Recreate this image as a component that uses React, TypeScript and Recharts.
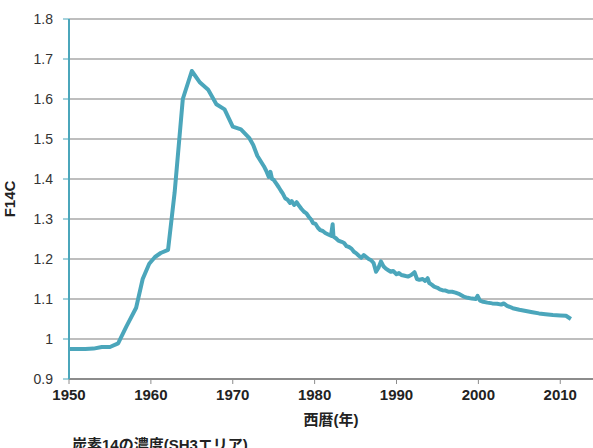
import React from 'react';
import { LineChart, Line, XAxis, YAxis, CartesianGrid, Label } from 'recharts';

const years: number[] = [
  1950, 1951, 1952, 1953, 1954, 1955, 1956, 1957, 1958.2, 1959, 1959.8, 1960.5, 1961.2, 1962.1, 1962.9, 1963.9,
  1965.0, 1966.0, 1967.0, 1968.0, 1969.0, 1970.0, 1971.0, 1972.0, 1972.5, 1973.0, 1973.4, 1973.8, 1974.1, 1974.4,
  1974.6, 1974.8, 1975.0, 1975.3, 1975.6, 1975.9, 1976.1, 1976.4, 1976.7, 1977.0, 1977.2, 1977.5, 1977.8, 1978.1,
  1978.4, 1978.7, 1979.0, 1979.3, 1979.6, 1979.8, 1980.1, 1980.4, 1980.7, 1981.0, 1981.3, 1981.6, 1982.0, 1982.2,
  1982.3, 1982.6, 1982.9, 1983.3, 1983.6, 1983.9, 1984.2, 1984.5, 1984.8, 1985.1, 1985.4, 1985.7, 1986.0, 1986.3,
  1986.6, 1986.9, 1987.2, 1987.5, 1987.8, 1988.1, 1988.4, 1988.7, 1989.0, 1989.3, 1989.6, 1990.0, 1990.3, 1990.6,
  1991.0, 1991.4, 1991.8, 1992.2, 1992.5, 1992.8, 1993.2, 1993.5, 1993.8, 1994.0, 1994.3, 1994.6, 1995.0, 1995.3,
  1995.6, 1996.0, 1996.4, 1996.8, 1997.2, 1997.7, 1998.2, 1998.7, 1999.2, 1999.7, 1999.9, 2000.2, 2000.6, 2001.1,
  2001.7, 2002.3, 2002.8, 2003.1, 2003.5, 2004.2, 2005.0, 2005.8, 2006.6, 2007.4, 2008.2, 2009.1, 2010.0, 2010.7,
  2011.3,
];

const f14c: number[] = [
  0.975, 0.975, 0.975, 0.976, 0.98, 0.98, 0.989, 1.031, 1.078, 1.15, 1.188, 1.205, 1.215, 1.223, 1.366, 1.6,
  1.67, 1.641, 1.623, 1.587, 1.574, 1.531, 1.524, 1.503, 1.485, 1.458, 1.445, 1.432, 1.42, 1.405,
  1.418, 1.4, 1.398, 1.389, 1.38, 1.37, 1.364, 1.352, 1.348, 1.34, 1.345, 1.335, 1.342, 1.333,
  1.325, 1.318, 1.314, 1.305, 1.298, 1.29, 1.288, 1.278, 1.272, 1.27, 1.265, 1.262, 1.258, 1.287,
  1.256, 1.252, 1.246, 1.243, 1.24, 1.232, 1.23, 1.226, 1.218, 1.214, 1.208, 1.203, 1.21, 1.205,
  1.2, 1.197, 1.19, 1.168, 1.178, 1.194, 1.182, 1.176, 1.172, 1.168, 1.17, 1.162, 1.165, 1.16,
  1.158, 1.156, 1.16, 1.167, 1.15, 1.148, 1.15, 1.145, 1.152, 1.14, 1.136, 1.131, 1.128, 1.124,
  1.122, 1.121, 1.118, 1.118, 1.116, 1.112, 1.106, 1.103, 1.101, 1.1, 1.108, 1.096, 1.093, 1.091,
  1.089, 1.088, 1.086, 1.089, 1.083, 1.077, 1.073, 1.07, 1.067, 1.064, 1.062, 1.06, 1.059, 1.058,
  1.05,
];

const xTicks: number[] = [1950, 1960, 1970, 1980, 1990, 2000, 2010];
const yTicks: number[] = [0.9, 1.0, 1.1, 1.2, 1.3, 1.4, 1.5, 1.6, 1.7, 1.8];

const yLabel = 'F14C';
const xLabel = '西暦(年)';
const title = '炭素14の濃度(SH3エリア)';

const data = years.map((y, i) => ({ year: y, value: f14c[i] }));

const FONT = '"Liberation Sans", Arial, "Noto Sans CJK JP", sans-serif';
const TEAL = '#4BA6BB';

export default function App() {
  return (
    <div style={{ position: 'absolute', left: 0, top: 0, width: 593, height: 448, overflow: 'hidden', background: '#fff', fontFamily: FONT }}>
      <LineChart width={593} height={448} data={data} margin={{ top: 19, right: 0, bottom: 39, left: 0 }}>
        <CartesianGrid horizontal vertical={false} stroke="#A8A8A8" strokeWidth={1.5} />
        <XAxis
          dataKey="year"
          type="number"
          domain={[1950, 2014]}
          ticks={xTicks}
          height={30}
          axisLine={{ stroke: '#8C8C8C', strokeWidth: 2 }}
          tickLine={{ stroke: '#8C8C8C' }}
          tickSize={5}
          tickMargin={5}
          tick={{ fill: '#222', fontSize: 15, fontWeight: 'bold', fontFamily: FONT }}
          allowDataOverflow
        >
          <Label value={xLabel} position="bottom" offset={5} style={{ fill: '#222', fontSize: 15, fontWeight: 'bold', fontFamily: FONT }} />
        </XAxis>
        <YAxis
          type="number"
          domain={[0.9, 1.8]}
          ticks={yTicks}
          width={69}
          axisLine={{ stroke: TEAL, strokeWidth: 2 }}
          tickLine={{ stroke: TEAL }}
          tickSize={6}
          tickMargin={10}
          tickFormatter={(v: number) => String(Number(v.toFixed(1)))}
          tick={{ fill: '#333', fontSize: 14, fontFamily: FONT }}
        >
          <Label value={yLabel} angle={-90} position="insideLeft" offset={10} style={{ fill: '#222', fontSize: 15, fontWeight: 'bold', fontFamily: FONT, textAnchor: 'middle' }} />
        </YAxis>
        <Line
          type="linear"
          dataKey="value"
          stroke={TEAL}
          strokeWidth={4}
          dot={false}
          isAnimationActive={false}
          strokeLinejoin="round"
        />
      </LineChart>
      <div style={{ position: 'absolute', left: 72, top: 436, fontSize: 15, fontWeight: 'bold', color: '#222', whiteSpace: 'nowrap', lineHeight: '18px' }}>
        {title}
      </div>
    </div>
  );
}
